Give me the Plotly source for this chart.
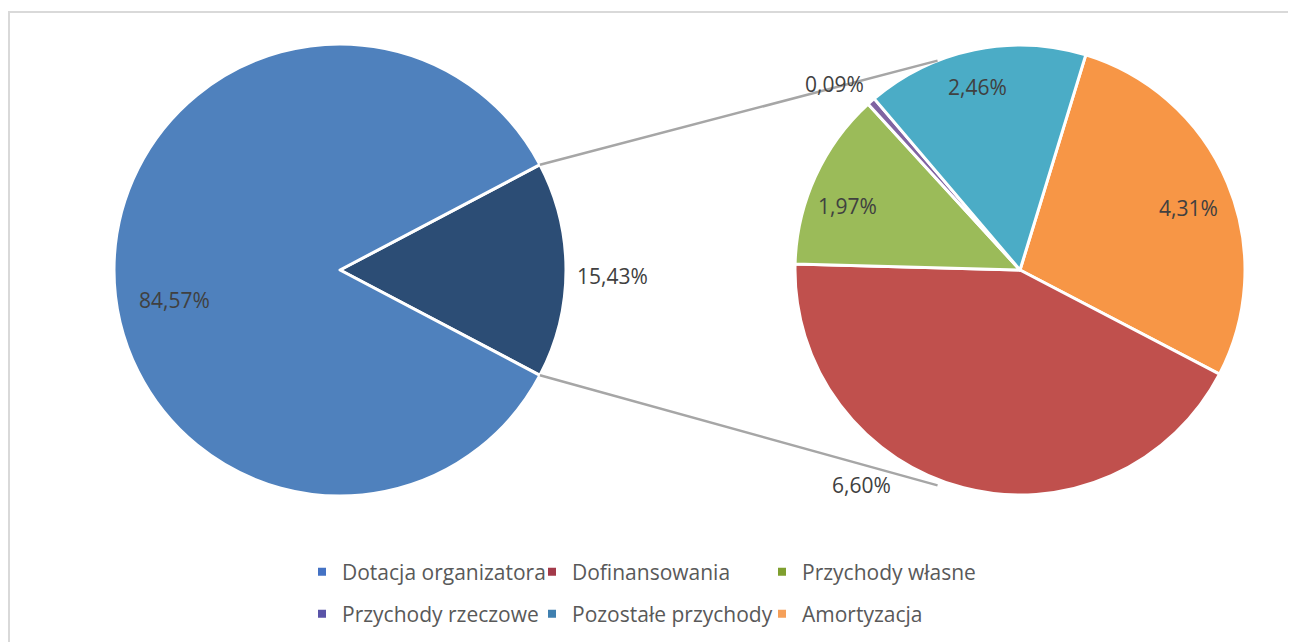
import math
import plotly.graph_objects as go

# data
main_label = "Dotacja organizatora"
main_value = 84.57
sub_labels = ["Amortyzacja", "Dofinansowania", "Przychody własne",
              "Przychody rzeczowe", "Pozostałe przychody"]
sub_values = [4.31, 6.60, 1.97, 0.09, 2.46]
legend_rows = [["Dotacja organizatora", "Dofinansowania", "Przychody własne"],
               ["Przychody rzeczowe", "Pozostałe przychody", "Amortyzacja"]]

colors = {
    "Dotacja organizatora": "#4F81BD",
    "Dofinansowania": "#C0504D",
    "Przychody własne": "#9BBB59",
    "Przychody rzeczowe": "#8064A2",
    "Pozostałe przychody": "#4BACC6",
    "Amortyzacja": "#F79646",
}
legend_colors = {
    "Dotacja organizatora": "#4472C4",
    "Dofinansowania": "#A33A4A",
    "Przychody własne": "#7F9F2F",
    "Przychody rzeczowe": "#5A54A8",
    "Pozostałe przychody": "#4080B0",
    "Amortyzacja": "#F5A05A",
}
other_color = "#2C4D75"

# page has an 8px body margin, so the figure is a bit smaller than the window
OFF = 8
W, H = 1296 - OFF, 642 - OFF
# pie geometry in page pixels (centre x, centre y, radius)
L_PIE = (340, 270, 226)
R_PIE = (1020, 270, 225)
# label centres in page pixels, same order as the slices
main_label_pos = [(174, 300), (612, 276)]
sub_label_pos = [(1188, 208), (861, 485), (847, 206), (835, 84), (978, 87)]

fmt = lambda v: ("%.2f" % v).replace(".", ",") + "%"
px_x = lambda x: (x - OFF) / W
px_y = lambda y: 1 - (y - OFF) / H


def domain(p):
    cx, cy, r = p
    return dict(x=[px_x(cx - r), px_x(cx + r)], y=[px_y(cy + r), px_y(cy - r)])


other_value = round(sum(sub_values), 2)
rot_left = 90 - other_value / 100 * 180

fig = go.Figure()
fig.add_trace(go.Pie(
    labels=["Inne", main_label], values=[other_value, main_value],
    sort=False, direction="clockwise", rotation=rot_left,
    marker=dict(colors=[other_color, colors[main_label]], line=dict(color="white", width=3)),
    textinfo="none", hoverinfo="skip", showlegend=False, domain=domain(L_PIE),
))
fig.add_trace(go.Pie(
    labels=sub_labels, values=sub_values,
    sort=False, direction="clockwise", rotation=17,
    marker=dict(colors=[colors[l] for l in sub_labels], line=dict(color="white", width=3)),
    textinfo="none", hoverinfo="skip", showlegend=False, domain=domain(R_PIE),
))

# legend entries
for i, row in enumerate(legend_rows):
    for name in row:
        fig.add_trace(go.Scatter(
            x=[None], y=[None], mode="markers", name=name,
            marker=dict(symbol="square", size=8, color=legend_colors[name]),
            legend="legend" if i == 0 else "legend2",
        ))

# connector lines
cx, cy, r = L_PIE
a1 = math.radians(rot_left)
a2 = math.radians(rot_left + other_value / 100 * 360)
rcx, rcy, rr = R_PIE
b = math.radians(21.5)
p_top = (cx + r * math.sin(a1), cy - r * math.cos(a1))
p_bot = (cx + r * math.sin(a2), cy - r * math.cos(a2))
q_top = (rcx - rr * math.sin(b), rcy - rr * math.cos(b))
q_bot = (rcx - rr * math.sin(b), rcy + rr * math.cos(b) + 6)
for p, q in [(p_top, q_top), (p_bot, q_bot)]:
    fig.add_shape(type="line", xref="paper", yref="paper",
                  x0=px_x(p[0]), y0=px_y(p[1]), x1=px_x(q[0]), y1=px_y(q[1]),
                  line=dict(color="#A6A6A6", width=2.5))

# frame
fig.add_shape(type="rect", xref="paper", yref="paper",
              x0=px_x(9), y0=px_y(700), x1=px_x(1310), y1=px_y(12),
              line=dict(color="#D9D9D9", width=2), layer="below")

labels_font = dict(family="Open Sans", size=21, color="#404040")
for v, pos in zip([main_value, other_value] + sub_values, main_label_pos + sub_label_pos):
    fig.add_annotation(text=fmt(v), x=px_x(pos[0]), y=px_y(pos[1]), xref="paper", yref="paper",
                       xanchor="center", yanchor="middle", showarrow=False, font=labels_font)

leg = dict(orientation="h", xanchor="left", yanchor="middle", x=px_x(302),
           entrywidth=185, font=dict(family="Open Sans", size=21, color="#595959"),
           bgcolor="rgba(0,0,0,0)", itemclick=False, itemdoubleclick=False)
fig.update_layout(
    width=W, height=H, margin=dict(l=0, r=0, t=0, b=0),
    paper_bgcolor="white", plot_bgcolor="white",
    xaxis=dict(visible=False), yaxis=dict(visible=False),
    legend=dict(leg, y=px_y(572)),
    legend2=dict(leg, y=px_y(614)),
)

fig.write_html("out.html")
